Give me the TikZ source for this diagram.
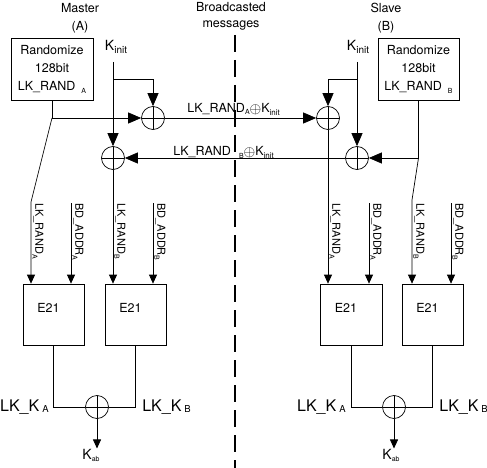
\documentclass[tikz,border=0pt]{standalone}
\usepackage{fontspec}
\setmainfont{TeX Gyre Heros}
\usetikzlibrary{arrows.meta}
\newcommand{\dn}[3]{\raisebox{#2}{\fontsize{#1}{#1}\selectfont #3}}
\newcommand{\xo}{\raisebox{-0.5pt}{\scalebox{1.25}{$\oplus$}}}

\begin{document}
\begin{tikzpicture}[x=1pt,y=-1pt,line width=0.7pt,
  txt/.style={font=\fontsize{12.5}{18}\selectfont,inner sep=0pt,align=center},
  bigtxt/.style={font=\fontsize{16}{18}\selectfont,inner sep=0pt},
  ktxt/.style={font=\fontsize{14}{16}\selectfont,inner sep=0pt},
  vlbl/.style={font=\fontsize{11}{12}\selectfont,rotate=-90,anchor=south west,inner sep=0pt},
  randbox/.style={draw,minimum width=82pt,minimum height=62pt,inner sep=0pt,
    align=center,font=\fontsize{12.5}{18}\selectfont},
  ebox/.style={draw,minimum width=61pt,minimum height=61pt,inner sep=0pt},
  xor/.style={draw,circle,minimum size=23pt,inner sep=0pt,
    path picture={\draw (path picture bounding box.north) -- (path picture bounding box.south)
      (path picture bounding box.west) -- (path picture bounding box.east);}},
  arr/.style={-{Triangle[length=13pt,width=11pt]}},
  sarr/.style={-{Triangle[length=9pt,width=8pt]}}]
  \useasboundingbox (0,0) rectangle (487,468);
  % headings
  \node[txt] (master) at (80,18) {Master\\(A)};
  \node[txt,font=\fontsize{12.5}{16}\selectfont] (bcast) at (231,16) {Broadcasted\\messages};
  \node[txt] (slave) at (386,18) {Slave\\(B)};
  % broadcast border
  \draw[line width=2pt,dash pattern=on 17pt off 8pt] (235,35) -- (235,468);
  % random sources
  \node[randbox] (randA) at (52,69) {Randomize\\128bit\\LK\_RAND\hspace{6pt}\dn{7}{-3pt}{A}};
  \node[randbox,minimum width=81pt] (randB) at (418.5,69) {Randomize\\128bit\\LK\_RAND\hspace{6pt}\dn{7}{-3pt}{B}};
  \node[ktxt] (kinitA) at (116,47) {K\dn{10}{-3pt}{init}};
  \node[ktxt] (kinitB) at (358,47) {K\dn{10}{-3pt}{init}};
  \coordinate (kA) at (113,62);
  \coordinate (kB) at (357,62);
  % xor gates
  \node[xor] (xau) at (153,118) {};
  \node[xor] (xal) at (113,158) {};
  \node[xor] (xbu) at (328,118) {};
  \node[xor] (xbl) at (357,158) {};
  \node[xor] (xao) at (97,407) {};
  \node[xor] (xbo) at (394,407) {};
  % E21 blocks
  \node[ebox] (eA1) at (53.5,314.5) {};
  \node[ebox] (eA2) at (135.5,314.5) {};
  \node[ebox,minimum width=62pt] (eB1) at (351,314.5) {};
  \node[ebox] (eB2) at (432.5,314.5) {};
  \foreach \b in {eA1,eA2,eB1,eB2}
    \node[txt,xshift=-5pt,yshift=7pt] (t\b) at (\b) {E21};
  % exchanged values
  \node[txt,anchor=base west] (msgA) at (187,113)
    {LK\_RAND\dn{7}{-2pt}{A}\xo K\dn{8}{-2.5pt}{init}};
  \node[txt,anchor=base west] (msgB) at (173,156)
    {LK\_RAND\hspace{8pt}\dn{7}{-2pt}{B}\xo K\dn{8}{-2.5pt}{init}};
  % master side
  \coordinate (jA) at (randA.south |- xau.west);
  \coordinate (bendA) at (31,202);
  \draw[arr] (randA.south) |- (xau.west);
  \draw[sarr] (jA) -- (bendA) -- (bendA |- eA1.north);
  \draw[arr] (kA) -- (xal.north);
  \draw[arr] (kA |- 0,79) -| (xau.north);
  \draw[arr] (xau.east) -- (xbu.west);
  \draw[sarr] (xal.south) -- (xal.south |- eA2.north);
  % slave side
  \coordinate (jB) at (randB.south |- xbl.east);
  \coordinate (bendB) at (412,200);
  \draw[arr] (randB.south) |- (xbl.east);
  \draw[sarr] (jB) -- (bendB) -- (bendB |- eB2.north);
  \draw[arr] (kB) -- (xbl.north);
  \draw[arr] (kB |- 0,79) -| (xbu.north);
  \draw[arr] (xbl.west) -- (xal.east);
  \draw[sarr] (xbu.south) -- (xbu.south |- eB1.north);
  % address inputs
  \coordinate (bdA1) at (71,203);
  \coordinate (bdA2) at (153,203);
  \coordinate (bdB1) at (369,203);
  \coordinate (bdB2) at (451,203);
  \foreach \c/\b in {bdA1/eA1, bdA2/eA2, bdB1/eB1, bdB2/eB2}
    \draw[sarr] (\c) -- (\c |- \b.north);
  % vertical labels
  \node[vlbl] (vA1) at (32,203) {LK\_RAND\dn{7}{-3pt}{A}};
  \node[vlbl] (vA2) at (72,203) {BD\_ADDR\dn{7}{-3pt}{A}};
  \node[vlbl] (vA3) at (114,203) {LK\_RAND\dn{7}{-3pt}{B}};
  \node[vlbl] (vA4) at (154,203) {BD\_ADDR\dn{7}{-3pt}{B}};
  \node[vlbl] (vB1) at (329,203) {LK\_RAND\dn{7}{-3pt}{A}};
  \node[vlbl] (vB2) at (370,203) {BD\_ADDR\dn{7}{-3pt}{A}};
  \node[vlbl] (vB3) at (413,203) {LK\_RAND\dn{7}{-3pt}{B}};
  \node[vlbl] (vB4) at (452,203) {BD\_ADDR\dn{7}{-3pt}{B}};
  % link keys
  \node[ktxt] (kabA) at (91,455) {K\dn{7}{-2pt}{ab}};
  \node[ktxt] (kabB) at (391,455) {K\dn{7}{-2pt}{ab}};
  \draw (eA1.south) |- (xao.west);
  \draw (eA2.south) |- (xao.east);
  \draw (eB1.south) |- (xbo.west);
  \draw (eB2.south) |- (xbo.east);
  \draw[sarr] (xao.south) -- (xao.south |- kabA.north);
  \draw[sarr] (xbo.south) -- (xbo.south |- kabB.north);
  \node[bigtxt,anchor=base east] (lkA1) at (49,411) {LK\_K\hspace{3pt}\dn{9.5}{-1pt}{A}};
  \node[bigtxt,anchor=base west] (lkA2) at (142,411) {LK\_K\hspace{3pt}\dn{9.5}{-1pt}{B}};
  \node[bigtxt,anchor=base east] (lkB1) at (346,411) {LK\_K\hspace{3pt}\dn{9.5}{-1pt}{A}};
  \node[bigtxt,anchor=base west] (lkB2) at (439,411) {LK\_K\hspace{3pt}\dn{9.5}{-1pt}{B}};
\end{tikzpicture}
\end{document}
